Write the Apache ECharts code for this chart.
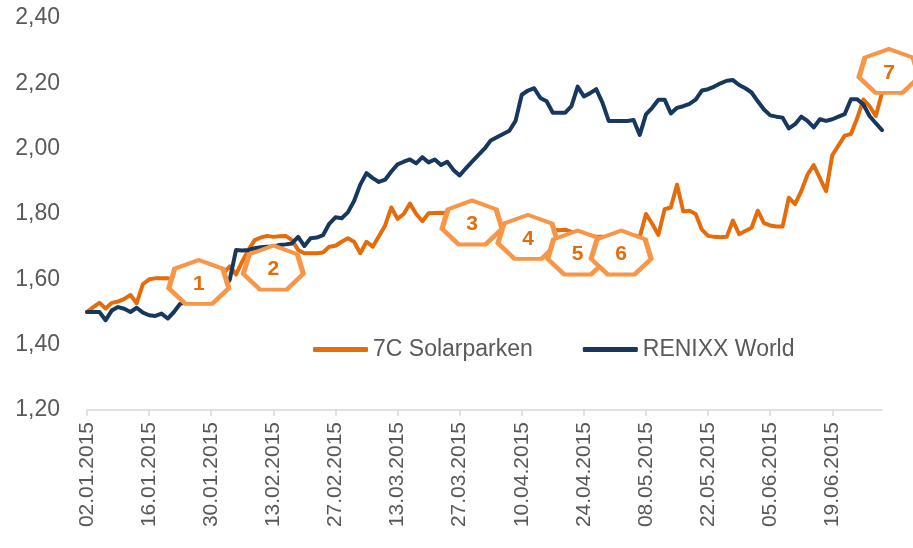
<!DOCTYPE html>
<html>
<head>
<meta charset="utf-8">
<script src="https://cdn.jsdelivr.net/npm/echarts@6/dist/echarts.min.js"></script>
<style>
  html, body { margin: 0; padding: 0; background: #fff; }
  #main { width: 913px; height: 548px; }
</style>
</head>
<body>
<div id="main"></div>
<script>
// trading days (Mo-Fr) from 02.01.2015 to 01.07.2015
const pad = n => (n < 10 ? '0' + n : '' + n);
const days = [];
for (let d = new Date(2015, 0, 2); d <= new Date(2015, 6, 1); d.setDate(d.getDate() + 1)) {
  if (d.getDay() === 0 || d.getDay() === 6) continue;
  days.push(pad(d.getDate()) + '.' + pad(d.getMonth() + 1) + '.' + d.getFullYear());
}

const solarparken = [
  1.50, 1.515, 1.528, 1.511, 1.528, 1.532, 1.54, 1.552, 1.527, 1.585,
  1.60, 1.603, 1.603, 1.603, 1.60, 1.60, 1.605, 1.61, 1.60, 1.605,
  1.61, 1.615, 1.62, 1.64, 1.615, 1.655, 1.69, 1.72, 1.728, 1.733,
  1.73, 1.732, 1.733, 1.72, 1.69, 1.68, 1.68, 1.68, 1.682, 1.70,
  1.703, 1.715, 1.726, 1.715, 1.68, 1.715, 1.70, 1.732, 1.765, 1.82,
  1.785, 1.80, 1.832, 1.80, 1.778, 1.802, 1.803, 1.804, 1.803, 1.80,
  1.80, 1.795, 1.79, 1.78, 1.775, 1.77, 1.765, 1.76, 1.755, 1.75,
  1.748, 1.745, 1.745, 1.75, 1.755, 1.752, 1.75, 1.752, 1.745, 1.74,
  1.738, 1.735, 1.73, 1.73, 1.728, 1.73, 1.73, 1.732, 1.735, 1.73,
  1.80, 1.77, 1.736, 1.815, 1.82, 1.89, 1.808, 1.81, 1.80, 1.752,
  1.733, 1.73, 1.729, 1.73, 1.78, 1.738, 1.748, 1.758, 1.81, 1.772,
  1.765, 1.762, 1.762, 1.85, 1.83, 1.87, 1.92, 1.95, 1.91, 1.87,
  1.98, 2.01, 2.04, 2.045, 2.093, 2.15, 2.13, 2.10, 2.17
];

const renixx = [
  1.50, 1.50, 1.50, 1.475, 1.505, 1.515, 1.51, 1.50, 1.513, 1.498,
  1.49, 1.488, 1.495, 1.48, 1.50, 1.525, 1.53, 1.535, 1.54, 1.55,
  1.555, 1.56, 1.565, 1.60, 1.69, 1.688, 1.69, 1.695, 1.698, 1.70,
  1.70, 1.705, 1.707, 1.71, 1.73, 1.702, 1.726, 1.728, 1.735, 1.77,
  1.79, 1.787, 1.805, 1.84, 1.89, 1.925, 1.91, 1.898, 1.905, 1.93,
  1.952, 1.96, 1.967, 1.955, 1.974, 1.958, 1.967, 1.95, 1.96, 1.935,
  1.918, 1.94, 1.96, 1.98, 2.00, 2.025, 2.035, 2.045, 2.055, 2.085,
  2.165, 2.178, 2.185, 2.155, 2.145, 2.11, 2.11, 2.11, 2.13, 2.19,
  2.16, 2.17, 2.182, 2.14, 2.085, 2.085, 2.085, 2.085, 2.088, 2.042,
  2.105, 2.125, 2.15, 2.15, 2.108, 2.125, 2.13, 2.137, 2.15, 2.178,
  2.182, 2.19, 2.20, 2.208, 2.21, 2.195, 2.185, 2.172, 2.145, 2.12,
  2.102, 2.098, 2.095, 2.062, 2.075, 2.098, 2.085, 2.065, 2.09, 2.085,
  2.09, 2.098, 2.106, 2.151, 2.151, 2.135, 2.10, 2.078, 2.057
];

// numbered event markers (category index, value)
const eventLabels = ['1', '2', '3', '4', '5', '6', '7'];
const eventIndex = [17.7, 29.9, 62.2, 71.0, 78.7, 86.3, 128];
const eventValue = [1.592, 1.636, 1.774, 1.730, 1.682, 1.682, 2.238];

const heptagon = 'path://M0,-100L78.2,-62.3L97.5,22.3L43.4,90.1L-43.4,90.1L-97.5,22.3L-78.2,-62.3Z';

const markers = eventLabels.map((n, k) => {
  const item = { name: n, coord: [eventIndex[k], eventValue[k]] };
  if (k === 6) item.symbolOffset = [7, 0];
  return item;
});

const font = "'Liberation Sans', Arial, sans-serif";
const chart = echarts.init(document.getElementById('main'));

chart.setOption({
  animation: false,
  backgroundColor: '#fff',
  grid: { left: 87, right: 31, top: 18, bottom: 138 },
  legend: {
    left: 308,
    top: 333,
    itemWidth: 55,
    itemHeight: 5,
    itemGap: 50,
    icon: 'roundRect',
    textStyle: { fontFamily: font, fontSize: 23, color: '#595959' },
    data: ['7C Solarparken', 'RENIXX World']
  },
  xAxis: {
    type: 'category',
    data: days,
    boundaryGap: false,
    axisLine: { lineStyle: { color: '#D9D9D9', width: 1.5 } },
    axisTick: { interval: 9, length: 6, lineStyle: { color: '#D9D9D9', width: 1.5 } },
    axisLabel: {
      interval: 9,
      rotate: 90,
      margin: 12,
      fontFamily: font,
      fontSize: 21,
      color: '#595959'
    },
    splitLine: { show: false }
  },
  yAxis: {
    type: 'value',
    min: 1.2,
    max: 2.4,
    interval: 0.2,
    axisLine: { show: false },
    axisTick: { show: false },
    splitLine: { show: false },
    axisLabel: {
      margin: 27,
      fontFamily: font,
      fontSize: 23,
      color: '#595959',
      formatter: v => v.toFixed(2).replace('.', ',')
    }
  },
  series: [
    {
      name: '7C Solarparken',
      type: 'line',
      data: solarparken,
      symbol: 'none',
      color: '#E46C0A',
      lineStyle: { width: 4, color: '#E46C0A', cap: 'round', join: 'round' },
      z: 2,
      markPoint: {
        z: 10,
        symbol: heptagon,
        symbolSize: [60, 44],
        symbolKeepAspect: false,
        itemStyle: { color: '#fff', borderColor: '#F79646', borderWidth: 4.5 },
        label: {
          show: true,
          formatter: '{b}',
          offset: [0, 2],
          fontFamily: font,
          fontSize: 21,
          fontWeight: 'bold',
          color: '#E46C0A'
        },
        data: markers
      }
    },
    {
      name: 'RENIXX World',
      type: 'line',
      data: renixx,
      symbol: 'none',
      color: '#17375E',
      lineStyle: { width: 4, color: '#17375E', cap: 'round', join: 'round' },
      z: 3
    }
  ]
});
</script>
</body>
</html>
